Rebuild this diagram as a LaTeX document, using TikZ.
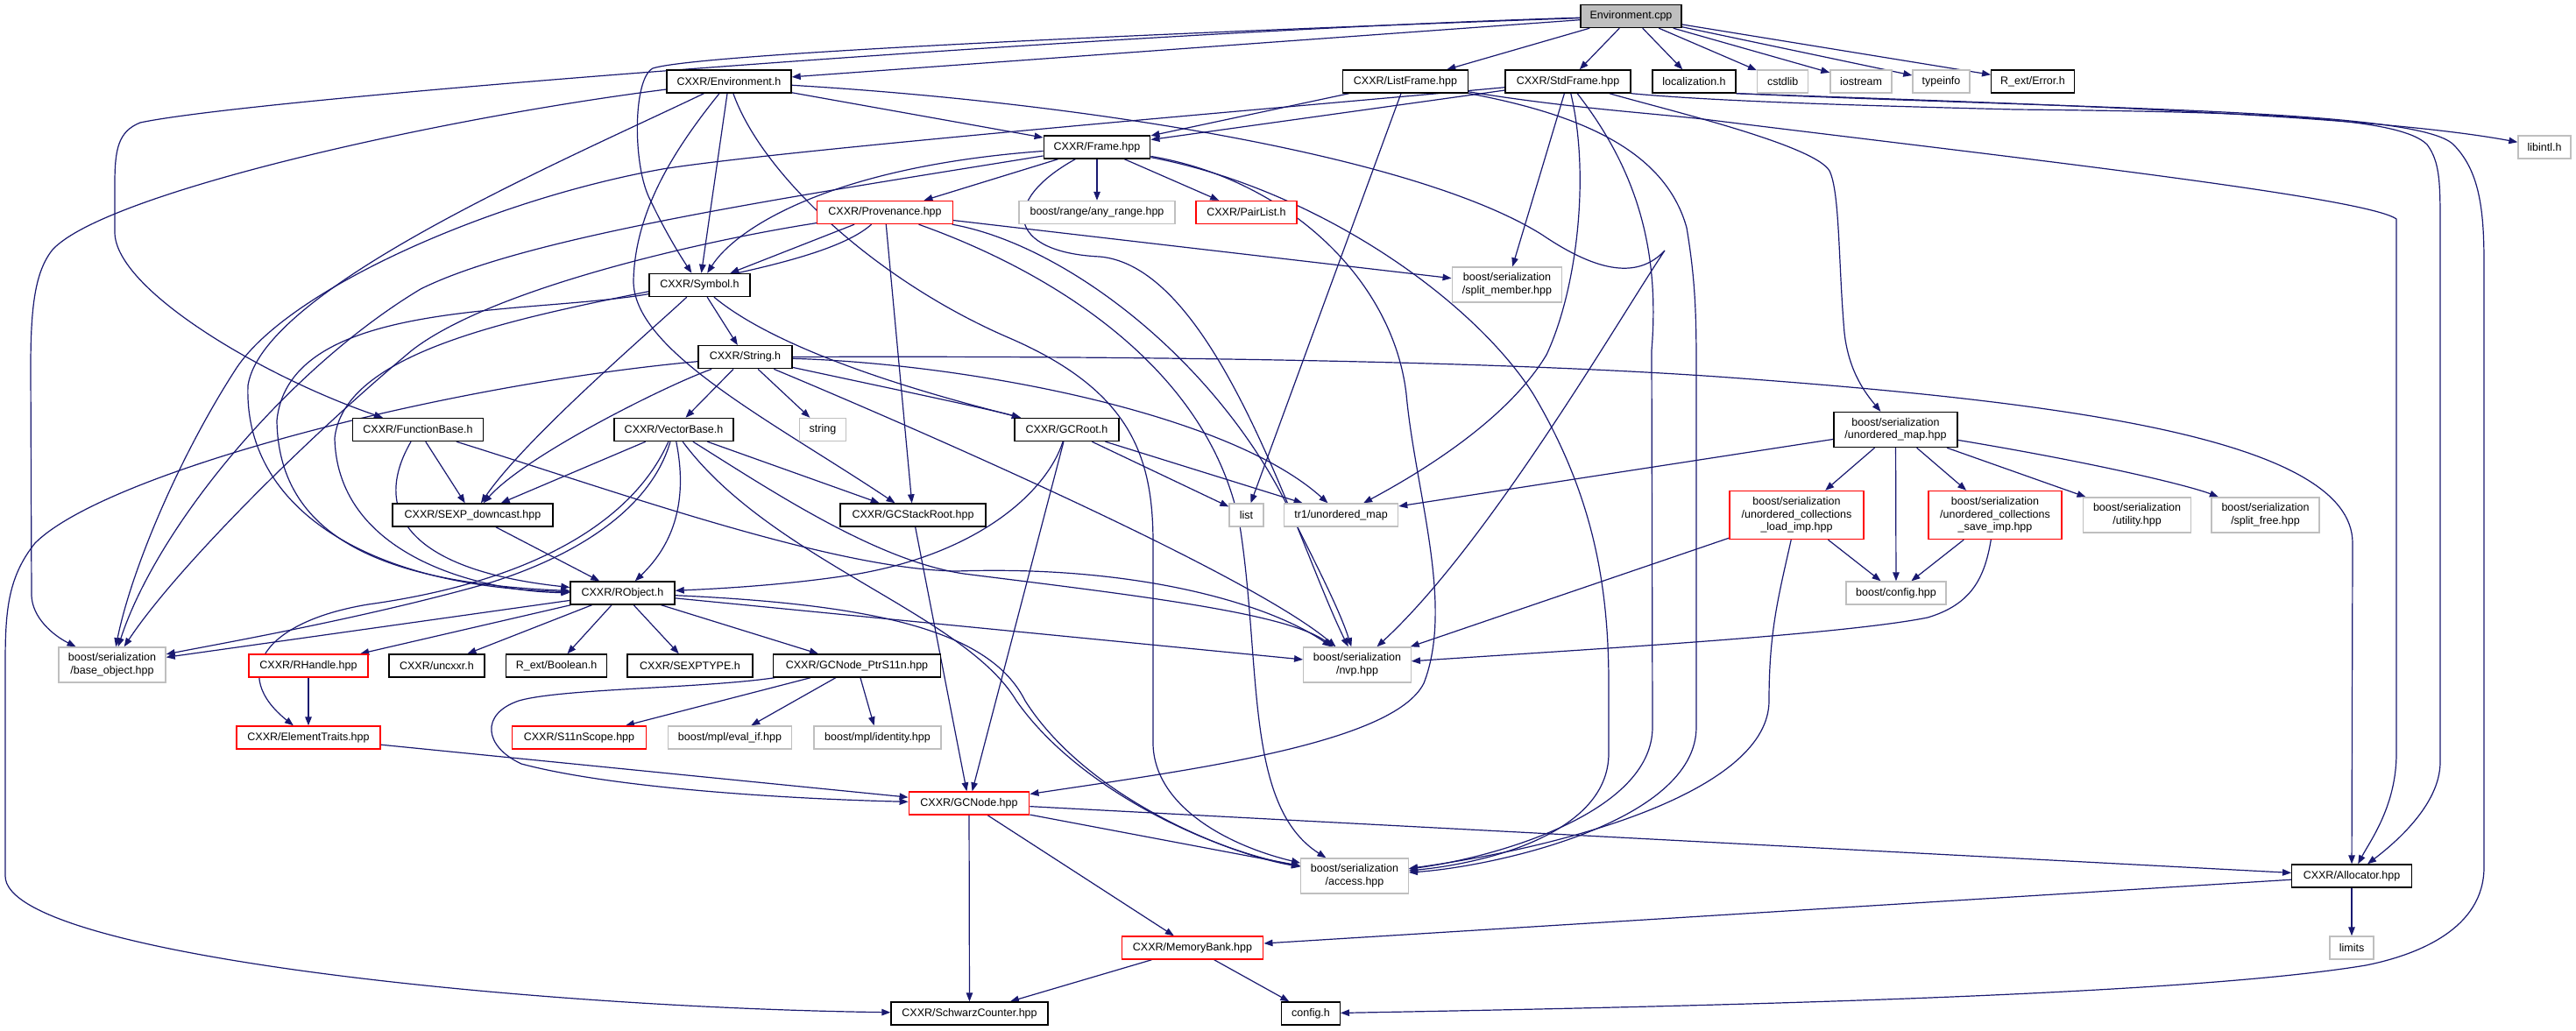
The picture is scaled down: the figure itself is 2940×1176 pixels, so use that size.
\documentclass[tikz,border=0pt]{standalone}
\usepackage{fontspec}
\setmainfont{Liberation Sans}
\usetikzlibrary{arrows.meta}
\definecolor{edgec}{HTML}{191970}
\definecolor{extg}{HTML}{BFBFBF}
\definecolor{truncr}{HTML}{FF0000}
\definecolor{rootf}{HTML}{BFBFBF}
\pgfdeclarelayer{bgl}
\pgfdeclarelayer{edgel}
\pgfsetlayers{bgl,edgel,main}
\tikzset{
  box/.style={rectangle, inner sep=0pt, minimum height=26pt, align=center, fill=white, line width=1.4pt, font=\fontsize{12.5}{14.5}\selectfont},
  doc/.style={box, draw=black},
  ext/.style={box, draw=extg},
  trunc/.style={box, draw=truncr},
  root/.style={box, draw=black, fill=rootf},
  edg/.style={draw=edgec, line width=1.2pt, -{Triangle[length=10pt,width=7.5pt]}}
}
\begin{document}
\begin{tikzpicture}[x=1pt,y=-1pt]
\useasboundingbox (0,0) rectangle (2940,1176);
\begin{pgfonlayer}{bgl}
\fill[white] (0,0) rectangle (2940,1176);
\end{pgfonlayer}
% ---------- nodes ----------
\node[root, minimum width=115pt] (EC) at (1861.5,18.5) {Environment.cpp};
\node[doc, minimum width=142pt] (EH) at (832,93) {CXXR/Environment.h};
\node[doc, minimum width=142.5pt] (LF) at (1604,93) {CXXR/ListFrame.hpp};
\node[doc, minimum width=143pt] (SF) at (1789.5,93) {CXXR/StdFrame.hpp};
\node[doc, minimum width=95pt] (LOC) at (1933.5,93) {localization.h};
\node[ext, minimum width=58pt] (CSTD) at (2034.7,93) {cstdlib};
\node[ext, minimum width=70pt] (IOS) at (2124,93) {iostream};
\node[ext, minimum width=65pt] (TYPE) at (2215.5,93) {typeinfo};
\node[doc, minimum width=94.5pt] (ERR) at (2320,93) {R\_ext/Error.h};
\node[doc, minimum width=121.5pt] (FR) at (1252,168) {CXXR/Frame.hpp};
\node[ext, minimum width=60pt] (LIB) at (2904,168) {libintl.h};
\node[trunc, minimum width=154.5pt] (PROV) at (1010,242.5) {CXXR/Provenance.hpp};
\node[ext, minimum width=178pt] (ANY) at (1252,242.5) {boost/range/any\_range.hpp};
\node[trunc, minimum width=115pt] (PL) at (1422.5,242.5) {CXXR/PairList.h};
\node[ext, minimum width=125.5pt, minimum height=40pt] (SPM) at (1720,325) {boost/serialization\\/split\_member.hpp};
\node[doc, minimum width=115pt] (SYM) at (798.5,325.5) {CXXR/Symbol.h};
\node[doc, minimum width=107pt] (STR) at (850.5,407.7) {CXXR/String.h};
\node[doc, minimum width=149.5pt] (FB) at (477,490.5) {CXXR/FunctionBase.h};
\node[doc, minimum width=136pt] (VB) at (769,490.5) {CXXR/VectorBase.h};
\node[ext, minimum width=53.5pt] (STRG) at (939,490.5) {string};
\node[doc, minimum width=119pt] (GCR) at (1217.5,490.5) {CXXR/GCRoot.h};
\node[doc, minimum width=141pt, minimum height=40pt] (UMH) at (2163.5,490.5) {boost/serialization\\/unordered\_map.hpp};
\node[doc, minimum width=183pt] (SD) at (539.5,588) {CXXR/SEXP\_downcast.hpp};
\node[doc, minimum width=166pt] (GSR) at (1042,588) {CXXR/GCStackRoot.hpp};
\node[ext, minimum width=39pt] (LIST) at (1422.5,588) {list};
\node[ext, minimum width=130pt] (TUM) at (1530.6,588) {tr1/unordered\_map};
\node[trunc, minimum width=153pt, minimum height=55pt] (LOAD) at (2050.5,588) {boost/serialization\\/unordered\_collections\\\_load\_imp.hpp};
\node[trunc, minimum width=152pt, minimum height=55pt] (SAVE) at (2277,588) {boost/serialization\\/unordered\_collections\\\_save\_imp.hpp};
\node[ext, minimum width=122.5pt, minimum height=40pt] (UTIL) at (2439,588) {boost/serialization\\/utility.hpp};
\node[ext, minimum width=123pt, minimum height=40pt] (SFREE) at (2585.5,588) {boost/serialization\\/split\_free.hpp};
\node[doc, minimum width=119pt] (RO) at (710.5,677) {CXXR/RObject.h};
\node[ext, minimum width=114pt] (CFGH) at (2164,677) {boost/config.hpp};
\node[ext, minimum width=122pt, minimum height=40pt] (BASE) at (128,759) {boost/serialization\\/base\_object.hpp};
\node[trunc, minimum width=136pt] (RH) at (352,760) {CXXR/RHandle.hpp};
\node[doc, minimum width=109pt] (UNC) at (498.5,760) {CXXR/uncxxr.h};
\node[doc, minimum width=114.5pt] (BOOL) at (635,760) {R\_ext/Boolean.h};
\node[doc, minimum width=143pt] (SEXPT) at (787.5,760) {CXXR/SEXPTYPE.h};
\node[doc, minimum width=191.5pt] (PTRS) at (978,760) {CXXR/GCNode\_PtrS11n.hpp};
\node[ext, minimum width=122.5pt, minimum height=40pt] (NVP) at (1549,759) {boost/serialization\\/nvp.hpp};
\node[trunc, minimum width=164pt] (ET) at (352,842) {CXXR/ElementTraits.hpp};
\node[trunc, minimum width=153.5pt] (S11) at (661,842) {CXXR/S11nScope.hpp};
\node[ext, minimum width=141.5pt] (EVAL) at (833,842) {boost/mpl/eval\_if.hpp};
\node[ext, minimum width=145pt] (IDENT) at (1001.5,842) {boost/mpl/identity.hpp};
\node[trunc, minimum width=137.5pt] (GCN) at (1106,917) {CXXR/GCNode.hpp};
\node[ext, minimum width=122.5pt, minimum height=40pt] (ACC) at (1546,1000) {boost/serialization\\/access.hpp};
\node[doc, minimum width=136.5pt] (ALLOC) at (2684,1000) {CXXR/Allocator.hpp};
\node[ext, minimum width=50pt] (LIM) at (2684,1082) {limits};
\node[trunc, minimum width=161.5pt] (MB) at (1361,1082) {CXXR/MemoryBank.hpp};
\node[doc, minimum width=179pt] (SC) at (1106.5,1157) {CXXR/SchwarzCounter.hpp};
\node[doc, minimum width=66.5pt] (CFG) at (1496,1157) {config.h};
% ---------- edges ----------
\begin{pgfonlayer}{edgel}
% Environment.cpp
\draw[edg] (EC) -- (EH);
\draw[edg] (EC) -- (LF);
\draw[edg] (EC) -- (SF);
\draw[edg] (EC) -- (LOC);
\draw[edg] (EC) -- (CSTD);
\draw[edg] (EC) -- (IOS);
\draw[edg] (EC) -- (TYPE);
\draw[edg] (EC) -- (ERR);
\draw[edg] (EC) .. controls (1400,35) and (800,60) .. (745,78) .. controls (722,90) and (722,190) .. (742,228) .. controls (758,262) and (775,290) .. (SYM);
\draw[edg] (EC) .. controls (1300,35) and (300,110) .. (160,140) .. controls (135,150) and (131,170) .. (131,210) -- (131,265) .. controls (131,330) and (300,430) .. (FB);
% Environment.h
\draw[edg] (EH) -- (FR);
\draw[edg] (EH) -- (SYM);
\draw[edg] (EH) .. controls (500,135) and (120,220) .. (60,285) .. controls (40,310) and (35,350) .. (35,420) -- (36,680) .. controls (37,705) and (60,725) .. (BASE);
\draw[edg] (EH) .. controls (640,185) and (300,330) .. (283,440) .. controls (278,580) and (420,670) .. (RO);
\draw[edg] (EH) .. controls (770,170) and (725,240) .. (723,320) .. controls (722,400) and (880,480) .. (GSR);
\draw[edg] (EH) .. controls (870,200) and (1000,320) .. (1150,385) .. controls (1290,445) and (1316,520) .. (1316,620) -- (1316,850) .. controls (1318,920) and (1400,965) .. (ACC);
\draw[edg] (EH) .. controls (1250,118) and (1620,180) .. (1760,268) .. controls (1825,312) and (1870,318) .. (1900,286) .. controls (1850,360) and (1700,620) .. (NVP);
% ListFrame.hpp
\draw[edg] (LF) -- (FR);
\draw[edg] (LF) -- (LIST);
\draw[edg] (LF) .. controls (1800,125) and (1900,130) .. (1960,138) .. controls (2300,180) and (2700,225) .. (2735,250) -- (2735,860) .. controls (2735,920) and (2705,960) .. (ALLOC);
\draw[edg] (LF) .. controls (1800,130) and (1900,170) .. (1925,260) .. controls (1935,320) and (1936,360) .. (1936,420) -- (1936,830) .. controls (1936,940) and (1700,990) .. (ACC);
% StdFrame.hpp
\draw[edg] (SF) -- (FR);
\draw[edg] (SF) -- (SPM);
\draw[edg] (SF) .. controls (1500,120) and (900,170) .. (756,193) .. controls (560,228) and (330,330) .. (270,420) .. controls (205,520) and (150,650) .. (BASE);
\draw[edg] (SF) .. controls (1815,200) and (1800,330) .. (1765,405) .. controls (1720,480) and (1620,540) .. (TUM);
\draw[edg] (SF) .. controls (1865,190) and (1895,280) .. (1885,400) -- (1886,830) .. controls (1886,930) and (1700,980) .. (ACC);
\draw[edg] (SF) .. controls (1900,125) and (2070,165) .. (2088,195) .. controls (2100,220) and (2098,300) .. (2105,380) .. controls (2110,425) and (2130,450) .. (UMH);
\draw[edg] (SF.south east) .. controls (1950,115) and (2100,120) .. (2300,125) .. controls (2600,128) and (2740,135) .. (2770,165) .. controls (2785,185) and (2785,210) .. (2785,260) -- (2785,870) .. controls (2785,920) and (2730,965) .. (ALLOC);
% localization.h
\draw[edg] (LOC.south east) .. controls (2300,118) and (2700,130) .. (LIB);
\draw[edg] (LOC.south east) .. controls (2400,125) and (2760,125) .. (2800,165) .. controls (2830,195) and (2835,240) .. (2835,300) -- (2835,990) .. controls (2835,1060) and (2760,1090) .. (2700,1102) .. controls (2500,1135) and (2000,1148) .. (CFG);
% Frame.hpp
\draw[edg] (FR) -- (PROV);
\draw[edg] (FR) -- (ANY);
\draw[edg] (FR) -- (PL);
\draw[edg] (FR) .. controls (950,190) and (840,260) .. (SYM);
\draw[edg] (FR) .. controls (900,225) and (600,270) .. (480,330) .. controls (330,420) and (180,600) .. (BASE);
\draw[edg] (FR) .. controls (1140,230) and (1150,288) .. (1255,293) .. controls (1390,305) and (1480,620) .. (NVP);
\draw[edg] (FR) .. controls (1470,205) and (1590,320) .. (1605,450) .. controls (1615,560) and (1660,690) .. (1625,780) .. controls (1590,850) and (1350,880) .. (GCN);
\draw[edg] (FR) .. controls (1500,215) and (1680,340) .. (1750,450) .. controls (1815,560) and (1836,660) .. (1836,780) -- (1836,860) .. controls (1836,950) and (1700,985) .. (ACC);
% Provenance.hpp
\draw[edg] (PROV) -- (SYM);
\draw[edg] (PROV) -- (GSR);
\draw[edg] (PROV) -- (SPM);
\draw[edg] (PROV) .. controls (800,275) and (560,330) .. (470,400) .. controls (350,500) and (200,650) .. (BASE);
\draw[edg] (PROV) .. controls (900,340) and (400,340) .. (382,500) .. controls (385,640) and (560,676) .. (RO);
\draw[edg] (PROV) .. controls (1220,280) and (1400,420) .. (1480,600) .. controls (1510,660) and (1530,700) .. (NVP);
\draw[edg] (PROV) .. controls (1200,310) and (1380,420) .. (1415,600) .. controls (1440,760) and (1420,920) .. (ACC);
% Symbol.h
\draw[edg] (SYM) -- (STR);
\draw[edg] (SYM) .. controls (900,410) and (1100,460) .. (GCR);
\draw[edg] (SYM) .. controls (740,380) and (600,500) .. (SD);
\draw[edg] (SYM) .. controls (600,360) and (330,340) .. (316,480) .. controls (318,620) and (450,666) .. (RO);
% String.h
\draw[edg] (STR) -- (VB);
\draw[edg] (STR) -- (STRG);
\draw[edg] (STR) .. controls (1000,440) and (1120,465) .. (GCR);
\draw[edg] (STR) .. controls (760,440) and (600,520) .. (SD);
\draw[edg] (STR) .. controls (1100,415) and (1400,470) .. (TUM);
\draw[edg] (STR) .. controls (1300,406) and (1700,412) .. (1960,430) .. controls (2350,458) and (2685,500) .. (2685,620) -- (ALLOC);
\draw[edg] (STR) .. controls (500,440) and (120,540) .. (40,620) .. controls (8,660) and (6,700) .. (6,760) -- (6,1000) .. controls (6,1090) and (600,1150) .. (SC);
\draw[edg] (STR) .. controls (1000,470) and (1420,650) .. (NVP);
% GCRoot.h / GCStackRoot.hpp
\draw[edg] (GCR) -- (LIST);
\draw[edg] (GCR) -- (TUM);
\draw[edg] (GCR) .. controls (1195,560) and (1120,630) .. (980,655) .. controls (900,668) and (820,672) .. (RO);
\draw[edg] (GCR) -- (GCN);
\draw[edg] (GSR) -- (GCN);
% FunctionBase.h
\draw[edg] (FB) -- (SD);
\draw[edg] (FB) .. controls (425,580) and (460,650) .. (RO);
\draw[edg] (FB) .. controls (700,560) and (950,650) .. (1092,652) .. controls (1300,645) and (1450,690) .. (NVP);
% VectorBase.h
\draw[edg] (VB) -- (SD);
\draw[edg] (VB) .. controls (785,570) and (770,620) .. (RO);
\draw[edg] (VB) -- (GSR);
\draw[edg] (VB) .. controls (740,590) and (640,640) .. (560,665) .. controls (420,705) and (250,735) .. (BASE);
\draw[edg] (VB) .. controls (720,600) and (600,665) .. (420,690) .. controls (300,710) and (262,770) .. (ET);
\draw[edg] (VB) .. controls (880,560) and (1000,640) .. (1100,655) .. controls (1300,680) and (1470,700) .. (NVP);
\draw[edg] (VB) .. controls (880,640) and (1100,700) .. (1160,800) .. controls (1230,900) and (1380,970) .. (ACC);
% SEXP_downcast.hpp
\draw[edg] (SD) -- (RO);
% RObject.h
\draw[edg] (RO) -- (BASE);
\draw[edg] (RO) -- (RH);
\draw[edg] (RO) -- (UNC);
\draw[edg] (RO) -- (BOOL);
\draw[edg] (RO) -- (SEXPT);
\draw[edg] (RO) -- (PTRS);
\draw[edg] (RO) -- (NVP);
\draw[edg] (RO) .. controls (1000,690) and (1130,720) .. (1170,800) .. controls (1240,910) and (1400,975) .. (ACC);
% lower CXXR headers
\draw[edg] (RH) -- (ET);
\draw[edg] (PTRS) -- (S11);
\draw[edg] (PTRS) -- (EVAL);
\draw[edg] (PTRS) -- (IDENT);
\draw[edg] (PTRS) .. controls (800,786) and (640,786) .. (592,800) .. controls (548,815) and (552,852) .. (595,872) .. controls (700,900) and (900,912) .. (GCN);
\draw[edg] (ET) -- (GCN);
\draw[edg] (GCN) -- (SC);
\draw[edg] (GCN) -- (MB);
\draw[edg] (GCN) -- (ACC);
\draw[edg] (GCN) -- (ALLOC);
\draw[edg] (ALLOC) -- (MB);
\draw[edg] (ALLOC) -- (LIM);
\draw[edg] (MB) -- (SC);
\draw[edg] (MB) -- (CFG);
% boost/serialization/unordered_map.hpp
\draw[edg] (UMH) -- (LOAD);
\draw[edg] (UMH) -- (SAVE);
\draw[edg] (UMH) -- (CFGH);
\draw[edg] (UMH) -- (UTIL);
\draw[edg] (UMH) .. controls (2400,530) and (2500,555) .. (SFREE);
\draw[edg] (UMH) -- (TUM);
\draw[edg] (LOAD) -- (CFGH);
\draw[edg] (SAVE) -- (CFGH);
\draw[edg] (LOAD) -- (NVP);
\draw[edg] (SAVE) .. controls (2265,660) and (2250,690) .. (2200,705) .. controls (2100,725) and (1800,742) .. (NVP);
\draw[edg] (LOAD) .. controls (2030,680) and (2019,720) .. (2019,800) .. controls (2019,900) and (1800,965) .. (ACC);
\end{pgfonlayer}
\end{tikzpicture}
\end{document}
